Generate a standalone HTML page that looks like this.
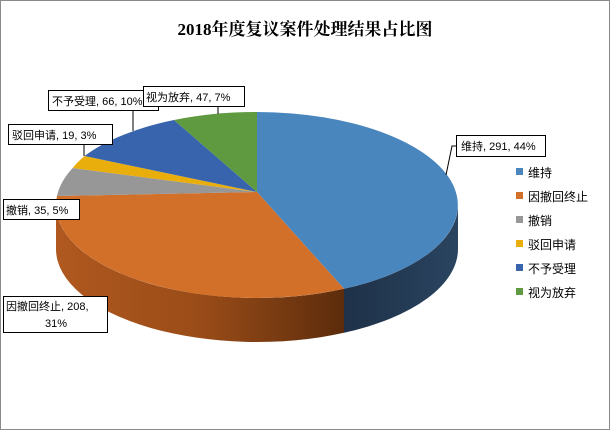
<!DOCTYPE html>
<html><head><meta charset="utf-8"><style>
body{margin:0;background:#fff;}
svg{display:block;font-family:"Liberation Sans","Noto Sans CJK SC",sans-serif;}
</style></head><body>
<svg width="610" height="430" viewBox="0 0 610 430">
<defs>
<linearGradient id="og" x1="0" x2="1" y1="0" y2="0">
<stop offset="0" stop-color="#b0581f"/><stop offset="0.5" stop-color="#9a4c18"/><stop offset="1" stop-color="#5c2c0c"/>
</linearGradient>
<linearGradient id="bg" x1="0" x2="1"><stop offset="0" stop-color="#1e3148"/><stop offset="1" stop-color="#2a4460"/></linearGradient>
</defs>
<rect x="0.5" y="0.5" width="609" height="429" fill="#fff" stroke="#8a8a8a"/>
<text x="305" y="35" text-anchor="middle" font-size="17" font-weight="bold" fill="#000" font-family="'Liberation Serif','Noto Serif CJK SC',serif">2018年度复议案件处理结果占比图</text>
<!-- sides -->
<path d="M458 205 A201 93 0 0 1 344 288.8 L344 332.8 A201 93 0 0 0 458 249 Z" fill="url(#bg)"/>
<path d="M344 288.8 A201 93 0 0 1 56 205 L56 249 A201 93 0 0 0 344 332.8 Z" fill="url(#og)"/>
<!-- top -->
<path d="M257 192 L257 112 A201 93 0 0 1 344 288.8 Z" fill="#4a86be"/>
<path d="M257 192 L344 288.8 A201 93 0 0 1 57 196 Z" fill="#d2702a"/>
<path d="M257 192 L57 196 A201 93 0 0 1 72.7 168 Z" fill="#979797"/>
<path d="M257 192 L72.7 168 A201 93 0 0 1 84.5 156 Z" fill="#e9ae0c"/>
<path d="M257 192 L84.5 156 A201 93 0 0 1 174 120 Z" fill="#3764ac"/>
<path d="M257 192 L174 120 A201 93 0 0 1 257 112 Z" fill="#5f9a41"/>
<!-- leaders -->
<g stroke="#000" stroke-width="1" fill="none">
<path d="M446 175 L452 146 L457 146"/>
<path d="M218 107 L218 114"/>
<path d="M133 110 L133 131"/>
<path d="M84 144 L84 156"/>
</g>
<g font-size="11" fill="#000">
<rect x="456.5" y="135.5" width="89" height="21" fill="#fff" stroke="#000"/>
<text x="461" y="150">维持, 291, 44%</text>
<rect x="48.5" y="90.5" width="110" height="20" fill="#fff" stroke="#000"/>
<text x="52" y="105">不予受理, 66, 10%</text>
<rect x="143.5" y="86.5" width="101" height="20" fill="#fff" stroke="#000"/>
<text x="146" y="101">视为放弃, 47, 7%</text>
<rect x="8.5" y="124.5" width="104" height="20" fill="#fff" stroke="#000"/>
<text x="12" y="139">驳回申请, 19, 3%</text>
<rect x="3.5" y="199.5" width="76" height="20" fill="#fff" stroke="#000"/>
<text x="6" y="214">撤销, 35, 5%</text>
<rect x="3.5" y="296.5" width="104" height="36" fill="#fff" stroke="#000"/>
<text x="6" y="310">因撤回终止, 208,</text>
<text x="56" y="327" text-anchor="middle">31%</text>
</g>
<g font-size="12" fill="#000">
<rect x="516" y="168" width="7" height="7" fill="#4a86be"/><text x="528" y="177">维持</text>
<rect x="516" y="192" width="7" height="7" fill="#d2702a"/><text x="528" y="201">因撤回终止</text>
<rect x="516" y="216" width="7" height="7" fill="#979797"/><text x="528" y="225">撤销</text>
<rect x="516" y="240" width="7" height="7" fill="#e9ae0c"/><text x="528" y="249">驳回申请</text>
<rect x="516" y="264" width="7" height="7" fill="#3764ac"/><text x="528" y="273">不予受理</text>
<rect x="516" y="288" width="7" height="7" fill="#5f9a41"/><text x="528" y="297">视为放弃</text>
</g>
</svg>
</body></html>
